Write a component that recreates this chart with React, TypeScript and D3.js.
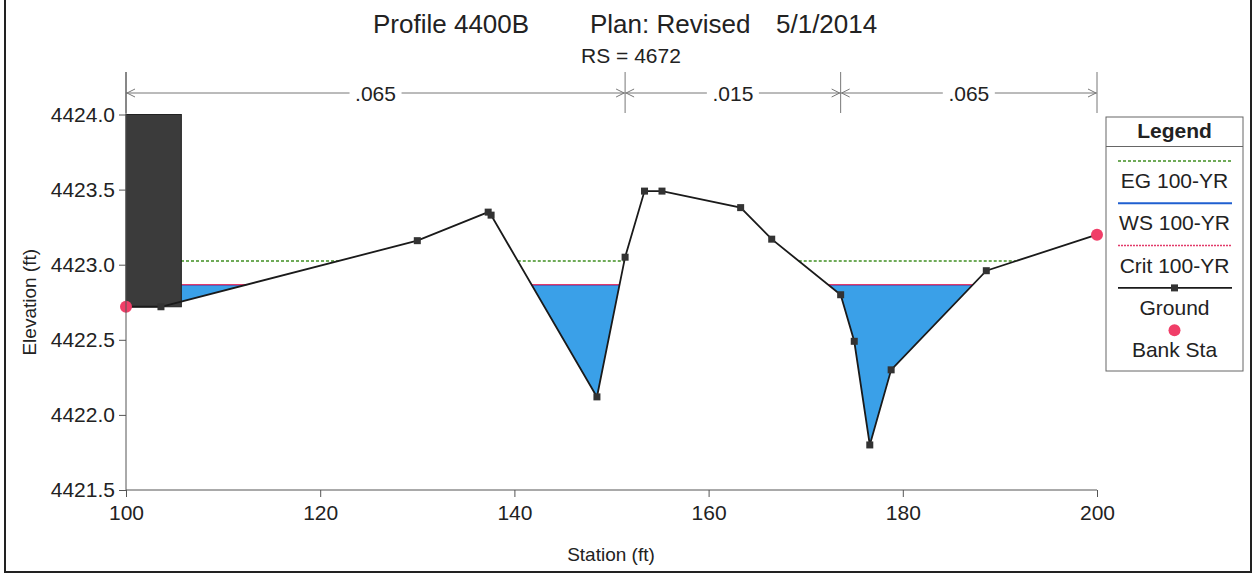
import { useRef, useEffect } from "react";
import * as d3 from "d3";

// ground profile (station ft, elevation ft)
const stations = [100, 103.6, 130.0, 137.3, 137.6, 148.5, 151.4, 153.4, 155.2, 163.3, 166.5, 173.6, 175.0, 176.6, 178.8, 188.6, 200];
const elevations = [4422.72, 4422.72, 4423.16, 4423.35, 4423.33, 4422.12, 4423.05, 4423.49, 4423.49, 4423.38, 4423.17, 4422.80, 4422.49, 4421.80, 4422.30, 4422.96, 4423.20];

const egLevel = 4423.025;
const wsLevel = 4422.865;
const critLevel = 4422.868;

const bankStations = [100, 200];
const blockStations = [100, 105.7];
const blockTop = 4424.0;

const nBreaks = [100, 151.4, 173.6, 200];
const nValues = [".065", ".015", ".065"];

const xTicks = [100, 120, 140, 160, 180, 200];
const yTicks = [4421.5, 4422.0, 4422.5, 4423.0, 4423.5, 4424.0];

const legendItems = ["EG 100-YR", "WS 100-YR", "Crit 100-YR", "Ground", "Bank Sta"];

const FONT = '"Liberation Sans", Arial, sans-serif';
const INK = "#222";

function groundAt(s: number) {
  return d3.scaleLinear().domain(stations).range(elevations)(s);
}

// pieces of the section where ground lies below a given level
function wetPieces(level: number) {
  const pieces: [number, number][][] = [];
  let cur: [number, number][] | null = null;
  for (let i = 0; i < stations.length; i++) {
    const s0 = stations[i], e0 = elevations[i];
    if (e0 <= level) {
      if (!cur) cur = [];
      cur.push([s0, e0]);
    }
    if (i < stations.length - 1) {
      const s1 = stations[i + 1], e1 = elevations[i + 1];
      if ((e0 <= level) !== (e1 <= level)) {
        const sx = s0 + ((level - e0) / (e1 - e0)) * (s1 - s0);
        if (!cur) cur = [[sx, level]];
        else {
          cur.push([sx, level]);
          pieces.push(cur);
          cur = null;
        }
      }
    }
  }
  if (cur) pieces.push(cur);
  return pieces;
}

export default function App() {
  const svgRef = useRef<SVGSVGElement>(null);

  useEffect(() => {
    if (!svgRef.current) return;
    const W = 1255, H = 574;
    const svg = d3.select(svgRef.current);
    svg.selectAll("*").remove();
    svg.attr("width", W).attr("height", H).style("font-family", FONT);

    svg.append("rect").attr("width", W).attr("height", H).attr("fill", "#fff");

    // outer frame
    svg.append("path")
      .attr("d", `M5,0 V572 H1251 V0`)
      .attr("fill", "none")
      .attr("stroke", "#222")
      .attr("stroke-width", 2);

    const x = d3.scaleLinear().domain([100, 200]).range([126, 1097]);
    const y = d3.scaleLinear().domain([4421.5, 4424.0]).range([490, 114.5]);

    // title
    const title = svg.append("text").attr("y", 33).attr("font-size", 26).attr("fill", INK);
    title.append("tspan").attr("x", 373).text("Profile 4400B");
    title.append("tspan").attr("x", 590).text("Plan: Revised");
    title.append("tspan").attr("x", 776).text("5/1/2014");
    svg.append("text")
      .attr("x", 631).attr("y", 63)
      .attr("text-anchor", "middle")
      .attr("font-size", 21)
      .attr("fill", INK)
      .text("RS = 4672");

    // Manning's n bar
    const barY = 93;
    const nb = svg.append("g").attr("stroke", "#777").attr("fill", "none").attr("stroke-width", 1);
    nBreaks.forEach((b) => {
      nb.append("line").attr("x1", x(b)).attr("x2", x(b)).attr("y1", 72).attr("y2", 113);
    });
    nValues.forEach((v, i) => {
      const a = x(nBreaks[i]), b = x(nBreaks[i + 1]);
      const mid = (a + b) / 2;
      const gap = 26;
      nb.append("line").attr("x1", a).attr("x2", mid - gap).attr("y1", barY).attr("y2", barY);
      nb.append("line").attr("x1", mid + gap).attr("x2", b).attr("y1", barY).attr("y2", barY);
      nb.append("path").attr("d", `M${a + 9},${barY - 4} L${a + 1},${barY} L${a + 9},${barY + 4}`);
      nb.append("path").attr("d", `M${b - 9},${barY - 4} L${b - 1},${barY} L${b - 9},${barY + 4}`);
      svg.append("text")
        .attr("x", mid).attr("y", barY + 8)
        .attr("text-anchor", "middle")
        .attr("font-size", 21)
        .attr("fill", INK)
        .text(v);
    });

    // water fill and lines
    const line = d3.line<[number, number]>().x((d) => x(d[0])).y((d) => y(d[1]));
    const wsPieces = wetPieces(wsLevel);
    wsPieces.forEach((p) => {
      const poly: [number, number][] = [...p, [p[p.length - 1][0], wsLevel], [p[0][0], wsLevel]];
      svg.append("path").attr("d", line(poly) + "Z").attr("fill", "#3aa0e8");
    });
    wetPieces(egLevel).forEach((p) => {
      svg.append("line")
        .attr("x1", x(p[0][0])).attr("x2", x(p[p.length - 1][0]))
        .attr("y1", y(egLevel)).attr("y2", y(egLevel))
        .attr("stroke", "#3f8f22").attr("stroke-width", 1.5).attr("stroke-dasharray", "3 2");
    });
    wsPieces.forEach((p) => {
      svg.append("line")
        .attr("x1", x(p[0][0])).attr("x2", x(p[p.length - 1][0]))
        .attr("y1", y(wsLevel)).attr("y2", y(wsLevel))
        .attr("stroke", "#1f5fd0").attr("stroke-width", 1.5);
    });
    wetPieces(critLevel).forEach((p) => {
      svg.append("line")
        .attr("x1", x(p[0][0])).attr("x2", x(p[p.length - 1][0]))
        .attr("y1", y(critLevel)).attr("y2", y(critLevel))
        .attr("stroke", "#e23a6a").attr("stroke-width", 1.3);
    });

    // blocked obstruction
    const blockBottom = groundAt(blockStations[0]);
    svg.append("rect")
      .attr("x", x(blockStations[0]))
      .attr("y", y(blockTop))
      .attr("width", x(blockStations[1]) - x(blockStations[0]))
      .attr("height", y(blockBottom) - y(blockTop))
      .attr("fill", "#3b3b3b")
      .attr("stroke", "#222")
      .attr("stroke-width", 1);

    // ground
    const pts: [number, number][] = stations.map((s, i) => [s, elevations[i]]);
    svg.append("path")
      .attr("d", line(pts))
      .attr("fill", "none")
      .attr("stroke", "#1a1a1a")
      .attr("stroke-width", 1.8);
    svg.append("g").selectAll("rect")
      .data(pts)
      .join("rect")
      .attr("x", (d) => x(d[0]) - 3.5)
      .attr("y", (d) => y(d[1]) - 3.5)
      .attr("width", 7).attr("height", 7)
      .attr("fill", "#333");

    // bank stations
    svg.append("g").selectAll("circle")
      .data(bankStations)
      .join("circle")
      .attr("cx", (d) => x(d))
      .attr("cy", (d) => y(groundAt(d)))
      .attr("r", 6)
      .attr("fill", "#f03e68");

    // axes
    const axisColor = "#555";
    const gy = svg.append("g").attr("transform", `translate(${x(100)},0)`);
    gy.call(d3.axisLeft(y).tickValues(d3.range(4421.5, 4424.01, 0.1)).tickSize(4).tickFormat(() => ""));
    gy.call(d3.axisLeft(y).tickValues(yTicks).tickSize(7).tickFormat(d3.format(".1f")) as any);
    gy.selectAll(".domain").remove();
    gy.selectAll("line").attr("stroke", axisColor);
    gy.selectAll("text").attr("font-size", 21).attr("font-family", FONT).attr("fill", INK).attr("dx", -1);
    gy.append("line").attr("x1", 0).attr("x2", 0).attr("y1", 72).attr("y2", 490).attr("stroke", axisColor);

    const gx = svg.append("g").attr("transform", `translate(0,${y(4421.5)})`);
    gx.call(d3.axisBottom(x).tickValues(d3.range(100, 200.1, 4)).tickSize(4).tickFormat(() => ""));
    gx.call(d3.axisBottom(x).tickValues(xTicks).tickSize(7).tickFormat(d3.format("d")) as any);
    gx.selectAll(".domain").remove();
    gx.selectAll("line").attr("stroke", axisColor);
    gx.selectAll("text").attr("font-size", 21).attr("font-family", FONT).attr("fill", INK).attr("dy", "0.95em");
    gx.append("line").attr("x1", x(100)).attr("x2", x(200)).attr("y1", 0).attr("y2", 0).attr("stroke", axisColor);

    svg.append("text")
      .attr("x", 611).attr("y", 561)
      .attr("text-anchor", "middle")
      .attr("font-size", 19)
      .attr("fill", INK)
      .text("Station (ft)");
    svg.append("text")
      .attr("transform", `translate(36,${y(4422.75)}) rotate(-90)`)
      .attr("text-anchor", "middle")
      .attr("font-size", 19)
      .attr("fill", INK)
      .text("Elevation (ft)");

    // legend
    const lg = svg.append("g").attr("transform", "translate(1106,117)");
    const lw = 137;
    lg.append("rect").attr("width", lw).attr("height", 254).attr("fill", "#fff").attr("stroke", "#666");
    lg.append("line").attr("x1", 0).attr("x2", lw).attr("y1", 29.5).attr("y2", 29.5).attr("stroke", "#666");
    lg.append("text")
      .attr("x", lw / 2).attr("y", 21)
      .attr("text-anchor", "middle")
      .attr("font-size", 21)
      .attr("font-weight", "bold")
      .attr("fill", INK)
      .text("Legend");
    const lx1 = 12, lx2 = 126;
    const rowStep = 42.3;
    legendItems.forEach((name, i) => {
      const ly = 44 + i * rowStep;
      if (i === 0) {
        lg.append("line").attr("x1", lx1).attr("x2", lx2).attr("y1", ly).attr("y2", ly)
          .attr("stroke", "#3f8f22").attr("stroke-width", 1.5).attr("stroke-dasharray", "3 2");
      } else if (i === 1) {
        lg.append("line").attr("x1", lx1).attr("x2", lx2).attr("y1", ly).attr("y2", ly)
          .attr("stroke", "#1f5fd0").attr("stroke-width", 2);
      } else if (i === 2) {
        lg.append("line").attr("x1", lx1).attr("x2", lx2).attr("y1", ly).attr("y2", ly)
          .attr("stroke", "#e23a6a").attr("stroke-width", 1.5).attr("stroke-dasharray", "2 1");
      } else if (i === 3) {
        lg.append("line").attr("x1", lx1).attr("x2", lx2).attr("y1", ly).attr("y2", ly)
          .attr("stroke", "#1a1a1a").attr("stroke-width", 1.6);
        lg.append("rect").attr("x", lw / 2 - 3.5).attr("y", ly - 3.5).attr("width", 7).attr("height", 7).attr("fill", "#333");
      } else {
        lg.append("circle").attr("cx", lw / 2).attr("cy", ly).attr("r", 6).attr("fill", "#f03e68");
      }
      lg.append("text")
        .attr("x", lw / 2).attr("y", ly + 27)
        .attr("text-anchor", "middle")
        .attr("font-size", 21)
        .attr("fill", INK)
        .text(name);
    });
  }, []);

  return <svg ref={svgRef} style={{ position: "absolute", left: 0, top: 0, display: "block" }} />;
}
